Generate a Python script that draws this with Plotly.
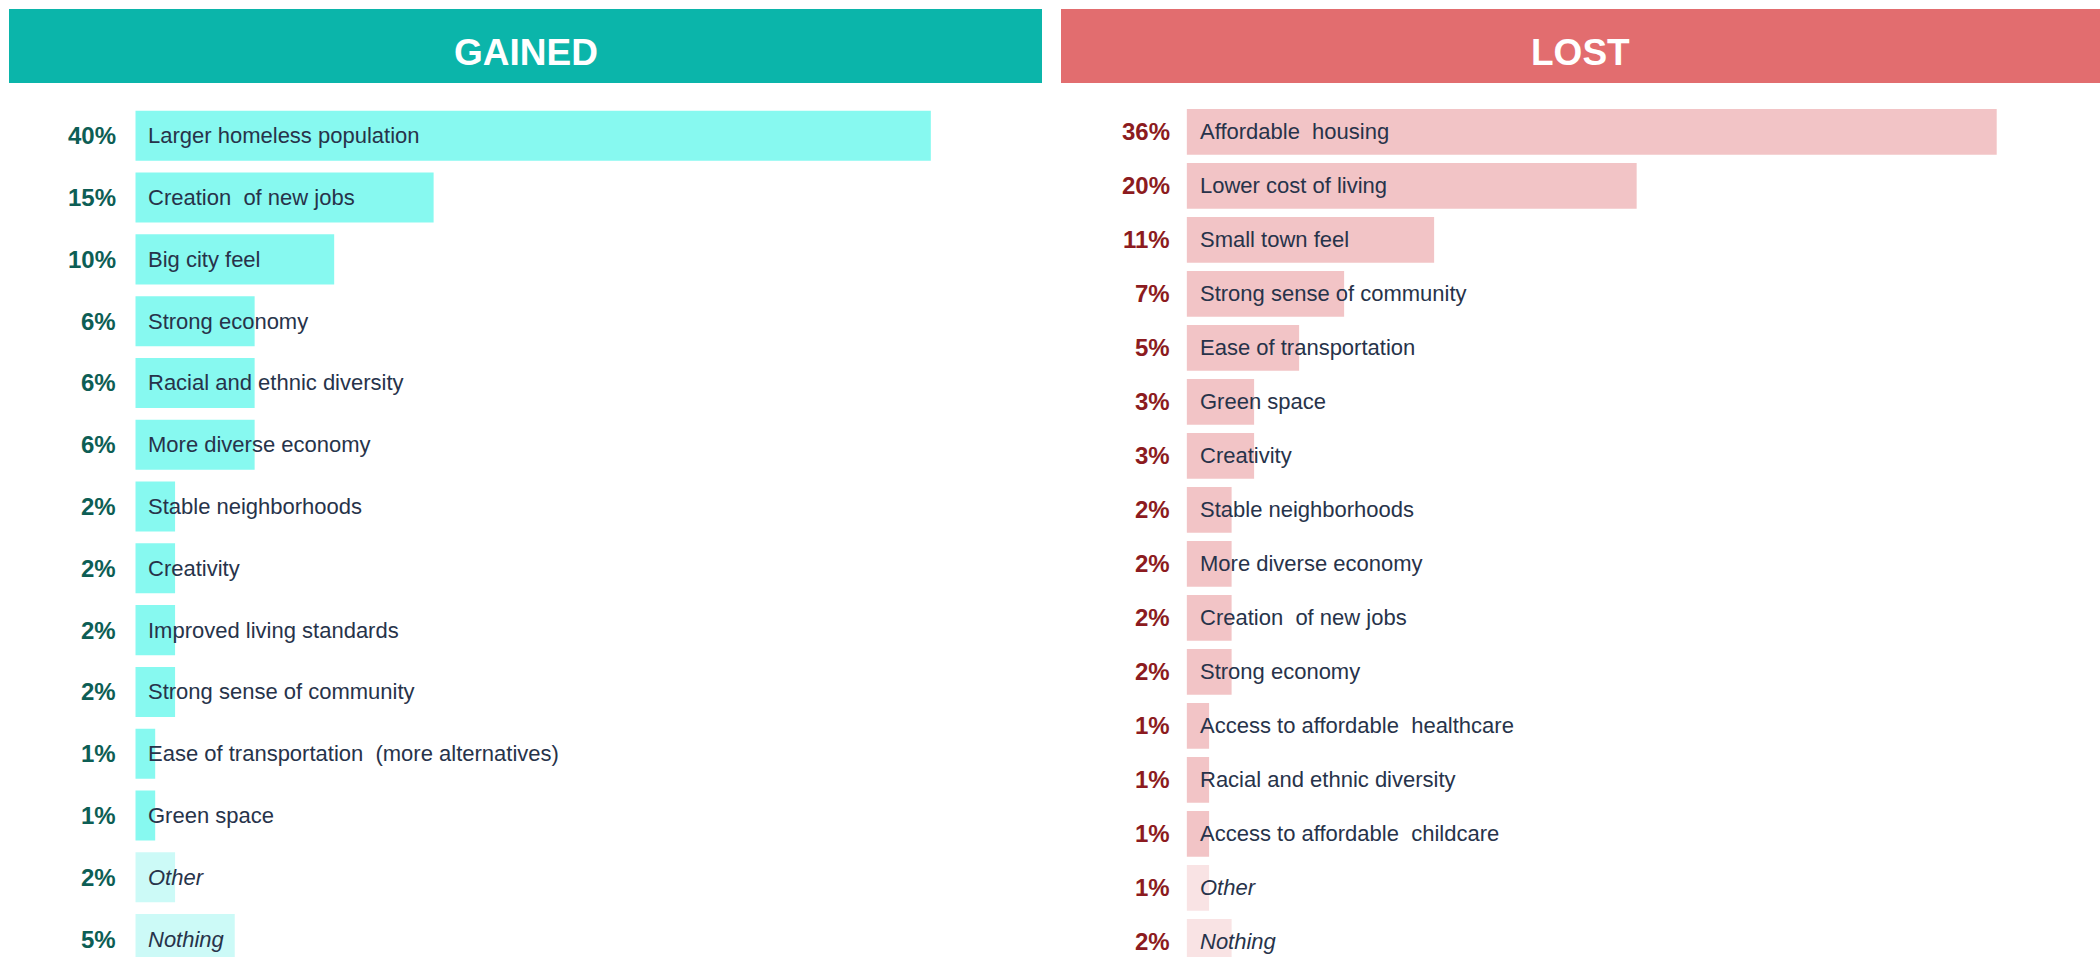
import plotly.graph_objects as go

# ---- data -------------------------------------------------------------
gained_labels = [
    "Larger homeless population", "Creation\u00a0 of new jobs", "Big city feel",
    "Strong economy", "Racial and ethnic diversity", "More diverse economy",
    "Stable neighborhoods", "Creativity", "Improved living standards",
    "Strong sense of community", "Ease of transportation\u00a0 (more alternatives)",
    "Green space", "Other", "Nothing",
]
gained_pct = [40, 15, 10, 6, 6, 6, 2, 2, 2, 2, 1, 1, 2, 5]

lost_labels = [
    "Affordable\u00a0 housing", "Lower cost of living", "Small town feel",
    "Strong sense of community", "Ease of transportation", "Green space",
    "Creativity", "Stable neighborhoods", "More diverse economy",
    "Creation\u00a0 of new jobs", "Strong economy",
    "Access to affordable\u00a0 healthcare", "Racial and ethnic diversity",
    "Access to affordable\u00a0 childcare", "Other", "Nothing",
]
lost_pct = [36, 20, 11, 7, 5, 3, 3, 2, 2, 2, 2, 1, 1, 1, 1, 2]

soft_rows = {"Other", "Nothing"}

# ---- styling ----------------------------------------------------------
FONT = "Liberation Sans, Arial, sans-serif"
TEXT_COLOR = "#27334a"
W, H = 2100, 957

panels = [
    dict(name="GAINED", labels=gained_labels, pct=gained_pct, ax="x", ay="y",
         head="#0bb5aa", bar="#87f9f0", soft="#ccfaf7", pct_color="#0d5e55",
         bar_w=0.81, pct_shift=-17),
    dict(name="LOST", labels=lost_labels, pct=lost_pct, ax="x2", ay="y2",
         head="#e26d6f", bar="#f2c4c6", soft="#f9e3e4", pct_color="#8c1b20",
         bar_w=0.846, pct_shift=-15),
]

fig = go.Figure()
annotations = []
for p in panels:
    rows = list(range(len(p["labels"])))
    colors = [p["soft"] if lab in soft_rows else p["bar"] for lab in p["labels"]]
    fig.add_trace(go.Bar(
        x=p["pct"], y=rows, orientation="h", width=p["bar_w"],
        marker=dict(color=colors, line=dict(width=0)),
        xaxis=p["ax"], yaxis=p["ay"], hoverinfo="skip", showlegend=False,
    ))
    for i, (lab, v) in enumerate(zip(p["labels"], p["pct"])):
        txt = f"<i>{lab}</i>" if lab in soft_rows else lab
        annotations.append(dict(
            x=0, y=i, xref=p["ax"], yref=p["ay"], text=txt, showarrow=False,
            xanchor="left", yanchor="middle", xshift=11,
            font=dict(family=FONT, size=22, color=TEXT_COLOR),
        ))
        annotations.append(dict(
            x=0, y=i, xref=p["ax"], yref=p["ay"], text=f"<b>{v}%</b>",
            showarrow=False, xanchor="right", yanchor="middle",
            xshift=p["pct_shift"],
            font=dict(family=FONT, size=24, color=p["pct_color"]),
        ))

# header bands
headers = [
    ("GAINED", 9, 1042, panels[0]["head"]),
    ("LOST", 1061, 2100, panels[1]["head"]),
]
shapes = []
for name, x0, x1, col in headers:
    shapes.append(dict(
        type="rect", xref="paper", yref="paper",
        x0=x0 / W, x1=x1 / W, y0=1 - 83 / H, y1=1 - 9 / H,
        fillcolor=col, line=dict(width=0), layer="below",
    ))
    annotations.append(dict(
        x=(x0 + x1) / 2 / W, y=1 - 52 / H, xref="paper", yref="paper",
        text=f"<b>{name}</b>", showarrow=False, xanchor="center",
        yanchor="middle", font=dict(family=FONT, size=37, color="white"),
    ))

hidden = dict(showgrid=False, zeroline=False, showticklabels=False,
              showline=False, ticks="", fixedrange=True)

fig.update_layout(
    width=W, height=H,
    margin=dict(l=0, r=0, t=0, b=0),
    paper_bgcolor="white", plot_bgcolor="rgba(0,0,0,0)",
    xaxis=dict(domain=[135.3 / W, 1042 / W], range=[0, 45.59], **hidden),
    yaxis=dict(domain=[0, 1 - 104.9 / H], range=[13.29, -0.5], **hidden),
    xaxis2=dict(domain=[1186.6 / W, 1.0], range=[0, 40.59], **hidden),
    yaxis2=dict(domain=[0, 1 - 104.8 / H], range=[15.28, -0.5], **hidden),
    shapes=shapes,
    annotations=annotations,
)

fig.write_html("out.html")
